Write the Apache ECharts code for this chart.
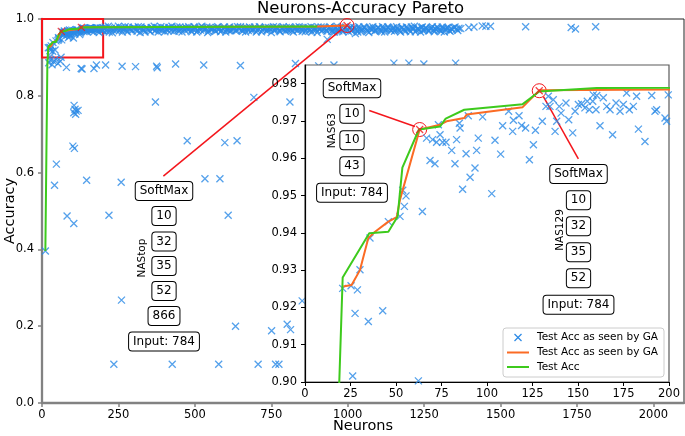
<!DOCTYPE html>
<html><head><meta charset="utf-8">
<script src="https://cdn.jsdelivr.net/npm/echarts@6/dist/echarts.min.js"></script>
<style>html,body{margin:0;padding:0;background:#fff}#c{width:685px;height:436px}</style>
</head><body><div id="c"></div>
<script>
// ---- tick labels ----
const mainXTicks = [0, 250, 500, 750, 1000, 1250, 1500, 1750, 2000];
const mainYTicks = [0, 0.2, 0.4, 0.6, 0.8, 1.0];
const insetXTicks = [0, 25, 50, 75, 100, 125, 150, 175, 200];
const insetYTicks = [0.90, 0.91, 0.92, 0.93, 0.94, 0.95, 0.96, 0.97, 0.98];

// ---- scatter: Test Acc as seen by GA ----
const pointsSmallNets = [
 [20.7,0.9251],[25.3,0.9258],[28.8,0.9247],[30.2,0.9301],[27.5,0.9184],[34.8,0.9162],[42.7,0.9191],
 [35.7,0.9386],[45.8,0.9430],[52.2,0.9444],[53.7,0.9514],[55.5,0.9499],[54.6,0.9471],[64.5,0.9457],
 [26.2,0.9016],[62.3,0.9003],[66.8,0.9654],[70.1,0.9650],[72.3,0.9643],[73.3,0.9690],[74.2,0.9663],
 [75.6,0.9643],[77.5,0.9643],[68.7,0.9594],[71.4,0.9585],[80.6,0.9621],[82.4,0.9585],[83.3,0.9650],
 [85.2,0.9681],[84.8,0.9694],[86.6,0.9517],[88.5,0.9612],[90.7,0.9549],[93.4,0.9574],[95.2,0.9654],
 [94.3,0.9621],[89.7,0.9714],[97.6,0.9711],[104.4,0.9648],[107.5,0.9611],[102.6,0.9505],[108.6,0.9687],
 [111.9,0.9726],[114.1,0.9672],[114.5,0.9702],[117.6,0.9714],[119.0,0.9688],[121.2,0.9681],[123.3,0.9596],
 [125.5,0.9636],[126.6,0.9675],[130.4,0.9699],[132.4,0.9739],[133.7,0.9766],[136.4,0.9757],[137.4,0.9672],
 [139.7,0.9739],[140.7,0.9721],[143.4,0.9748],[144.9,0.9703],[147.1,0.9668],[148.4,0.9726],[150.2,0.9744],
 [152.0,0.9746],[153.8,0.9735],[155.1,0.9753],[156.2,0.9730],[158.1,0.9753],[158.4,0.9770],[159.9,0.9730],
 [160.3,0.9768],[162.1,0.9687],[163.9,0.9762],[165.8,0.9739],[167.6,0.9730],[169.0,0.9663],[170.9,0.9748],
 [173.1,0.9726],[174.9,0.9744],[176.7,0.9775],[178.2,0.9730],[180.4,0.9739],[182.2,0.9766],[183.2,0.9678],
 [186.8,0.9645],[190.5,0.9768],[192.3,0.9726],[193.2,0.9730],[197.8,0.9708],[198.7,0.9699],[199.6,0.9770],
 [134.6,0.9739],[138.3,0.9699]
];
const pointsBand = [
 [201,0.970],[207,0.979],[214,0.973],[220,0.966],[227,0.976],[233,0.971],[240,0.978],[246,0.974],[253,0.969],
 [259,0.977],[266,0.972],[272,0.980],[279,0.967],[285,0.975],[292,0.971],[298,0.978],[305,0.973],[311,0.968],
 [318,0.976],[324,0.979],[331,0.972],[337,0.966],[344,0.975],[350,0.970],[357,0.978],[363,0.974],[370,0.969],
 [376,0.977],[383,0.972],[389,0.980],[396,0.975],[402,0.967],[409,0.973],[415,0.978],[422,0.970],[428,0.976],
 [435,0.972],[441,0.979],[448,0.968],[454,0.974],[461,0.977],[467,0.971],[474,0.975],[480,0.980],[487,0.969],
 [493,0.973],[500,0.978],[506,0.966],[513,0.975],[519,0.971],[526,0.977],[532,0.973],[539,0.979],[545,0.968],
 [552,0.974],[558,0.976],[565,0.970],[571,0.978],[578,0.973],[584,0.967],[591,0.975],[597,0.979],[604,0.972],
 [610,0.976],[617,0.969],[623,0.974],[630,0.978],[636,0.971],[643,0.975],[649,0.980],[656,0.968],[662,0.973],
 [669,0.977],[675,0.970],[682,0.976],[688,0.972],[695,0.979],[701,0.966],[708,0.974],[714,0.977],[721,0.971],
 [727,0.975],[734,0.969],[740,0.978],[747,0.973],[753,0.976],[760,0.970],[766,0.979],[773,0.974],[779,0.967],
 [786,0.975],[792,0.972],[799,0.978],[805,0.971],[812,0.976],[818,0.969],[825,0.974],[831,0.979],[838,0.972],
 [844,0.977],[851,0.968],[857,0.975],[864,0.971],[870,0.978],[877,0.973],[883,0.966],[890,0.976],[896,0.972],
 [903,0.979],[909,0.974],[916,0.969],[922,0.977],[929,0.971],[935,0.975],[942,0.980],[948,0.968],[955,0.973],
 [961,0.978],[968,0.972],[974,0.976],[981,0.970],[987,0.974],[994,0.979],[1000,0.971],[1007,0.976],[1013,0.969],
 [1020,0.978],[1026,0.973],[1033,0.966],[1039,0.975],[1046,0.971],[1052,0.979],[1059,0.974],[1065,0.968],
 [1072,0.977],[1078,0.972],[1085,0.975],[1091,0.970],[1098,0.978],[1104,0.973],[1111,0.967],[1117,0.976],
 [1124,0.971],[1130,0.979],[1137,0.974],[1143,0.969],[1150,0.977],[1156,0.972],[1163,0.975],[1169,0.970],
 [1176,0.978],[1182,0.973],[1189,0.968],[1195,0.976],[1202,0.971],[1208,0.979],[1215,0.974],[1221,0.967],
 [1228,0.975],[1234,0.972],[1241,0.978],[1247,0.970],[1254,0.976],[1260,0.973],[1267,0.969],[1273,0.977],
 [1280,0.971],[1286,0.975],[1293,0.979],[1299,0.972],[1306,0.968],[1312,0.976],[1319,0.973],[1325,0.978],
 [1332,0.970],[1339,0.975],[1347,0.977],[1356,0.974],[1364,0.976],
 [1396,0.978],[1413,0.979],[1440,0.982],[1452,0.981],[1467,0.981],[1582,0.980],[1731,0.978],[1745,0.974],[1811,0.980],
 [1025,0.962],[611,0.970],[813,0.973],[933,0.947],[957,0.966]
];
const pointsBand2 = [
 [204,0.975],[211,0.968],[217,0.981],[224,0.972],[230,0.964],[237,0.975],[243,0.970],[250,0.981],[256,0.973],
 [263,0.966],[269,0.976],[276,0.971],[282,0.979],[289,0.974],[295,0.969],[302,0.977],[308,0.972],[315,0.980],
 [321,0.965],[328,0.975],[334,0.970],[341,0.978],[347,0.973],[354,0.967],[360,0.976],[367,0.981],[373,0.972],
 [380,0.966],[386,0.975],[393,0.970],[399,0.978],[406,0.974],[412,0.969],[419,0.977],[425,0.981],[432,0.968],
 [438,0.975],[445,0.971],[451,0.979],[458,0.966],[464,0.974],[471,0.978],[477,0.972],[484,0.976],[490,0.967],
 [497,0.980],[503,0.973],[510,0.969],[516,0.977],[523,0.981],[529,0.970],[536,0.975],[542,0.965],[549,0.978],
 [555,0.972],[562,0.976],[568,0.968],[575,0.980],[581,0.974],[588,0.970],[594,0.977],[601,0.966],[607,0.973],
 [614,0.979],[620,0.971],[627,0.976],[633,0.969],[640,0.980],[646,0.974],[653,0.971],[659,0.977],[666,0.966],
 [672,0.975],[679,0.979],[685,0.969],[692,0.973],[698,0.976],[705,0.970],[711,0.980],[718,0.967],[724,0.974],
 [731,0.978],[737,0.971],[744,0.976],[750,0.965],[757,0.980],[763,0.972],[770,0.977],[776,0.969],[783,0.975],
 [789,0.980],[796,0.968],[802,0.974],[809,0.979],[815,0.972],[822,0.966],[828,0.976],[835,0.970],[841,0.980],
 [848,0.973],[854,0.978],[861,0.967],[867,0.975],[874,0.969],[880,0.980],[887,0.971],[893,0.977],[900,0.965],
 [906,0.974],[913,0.979],[919,0.972],[926,0.976],[932,0.968],[939,0.978],[945,0.973],[952,0.966],[958,0.976],
 [965,0.981],[971,0.969],[978,0.975],[984,0.967],[991,0.977],[997,0.973],[1004,0.966],[1010,0.979],[1017,0.972],
 [1023,0.976],[1030,0.970],[1036,0.980],[1043,0.967],[1049,0.974],[1056,0.978],[1062,0.971],[1069,0.965],
 [1075,0.975],[1082,0.980],[1088,0.968],[1095,0.973],[1101,0.977],[1108,0.970],[1114,0.980],[1121,0.966],
 [1127,0.974],[1134,0.978],[1140,0.971],[1147,0.975],[1153,0.968],[1160,0.980],[1166,0.973],[1173,0.966],
 [1179,0.977],[1186,0.971],[1192,0.979],[1199,0.974],[1205,0.967],[1212,0.976],[1218,0.981],[1225,0.970],
 [1231,0.975],[1238,0.966],[1244,0.979],[1251,0.972],[1257,0.977],[1264,0.969],[1270,0.974],[1277,0.980],
 [1283,0.967],[1290,0.973],[1296,0.976],[1303,0.970],[1309,0.979],[1316,0.966],[1322,0.974],[1329,0.977],
 [1335,0.968],[1342,0.972],[1351,0.979],[1360,0.970],[1370,0.975]
];
const pointsOutliers = [
 [80,0.874],[128,0.871],[131,0.870],[170,0.871],[178,0.880],[208,0.880],[262,0.877],[306,0.876],[375,0.877],
 [377,0.873],[437,0.883],[529,0.880],[649,0.879],[829,0.884],[905,0.878],[955,0.880],[1151,0.885],[1200,0.885],
 [1249,0.883],[1353,0.885],
 [105,0.775],[108,0.765],[112,0.760],[110,0.752],[118,0.762],[104,0.756],[101,0.669],[106,0.663],
 [371,0.784],[693,0.796],[811,0.784],[475,0.683],[598,0.678],[638,0.683],[47,0.622],[41,0.567],[146,0.580],
 [259,0.575],[533,0.584],[582,0.584],[82,0.487],[219,0.489],[609,0.489],[104,0.4675],[11,0.396],[260,0.268],
 [235,0.101],[426,0.101],[578,0.101],[707,0.101],[764,0.101],[775,0.101],[633,0.200],[751,0.188],[802,0.205],
 [813,0.191],[851,0.266],
 [22,0.886],[27,0.893],[33,0.881],[38,0.889],[45,0.896],[52,0.884],[60,0.890]
];

// ---- Pareto fronts ----
const gaAccFront = [
 [21,0.9256],[25.6,0.9260],[30.2,0.9300],[34.8,0.9386],[38.5,0.9403],[45.8,0.9430],[50.4,0.9442],[52.2,0.9489],
 [63,0.9677],[74.2,0.9690],[77.8,0.9699],[87.5,0.9708],[88.8,0.9717],[119.6,0.9737],[128.7,0.9782],[900,0.9805],[998,0.9830]
];
const testAccFront = [
 [11,0.396],[17.5,0.880],[20.7,0.928],[35.3,0.9399],[45.8,0.9403],[50.9,0.9444],[53.5,0.9575],[62.6,0.9677],
 [74.2,0.9685],[77.3,0.9706],[87.5,0.9730],[119.6,0.9745],[128.7,0.9779],[160.3,0.9788],[900,0.9805]
];
// highlighted networks
const nas63 = [63, 0.9677];
const nas129 = [128.7, 0.9781];
const nastop = [998, 0.983];
const nastopLayers = ['SoftMax', '10', '32', '35', '52', '866', 'Input: 784'];
const nas63Layers = ['SoftMax', '10', '10', '43', 'Input: 784'];
const nas129Layers = ['SoftMax', '10', '32', '35', '52', 'Input: 784'];

const BLUE = '#2b8ae6', ORANGE = '#fb6b24', GREEN = '#3dca1c', RED = '#f4161c';
const XSYM = 'path://M0,0L10,10M10,0L0,10';
const FONT = 'DejaVu Sans';

const allPoints = pointsSmallNets.concat(pointsBand, pointsBand2, pointsOutliers);

function boxes(list, cx, ys) {
  return list.map((t, i) => ({
    type: 'text', x: cx, y: ys[i], z: 30,
    style: { text: t, fontSize: 12, fontFamily: FONT, fill: '#000', align: 'center', verticalAlign: 'middle',
      backgroundColor: '#fff', borderColor: '#000', borderWidth: 1, borderRadius: 3, padding: [3, 4, 2, 4], lineHeight: 13 }
  }));
}
function vlabel(t, x, y) {
  return { type: 'text', x: x, y: y, rotation: Math.PI / 2, z: 30,
    style: { text: t, fontSize: 10.5, fontFamily: FONT, fill: '#000', align: 'center', verticalAlign: 'middle' } };
}

const chart = echarts.init(document.getElementById('c'), null, { renderer: 'canvas' });
const axisFont = { fontSize: 11.5, fontFamily: FONT, color: '#000' };

const option = {
  animation: false,
  backgroundColor: '#fff',
  title: { text: 'Neurons-Accuracy Pareto', left: 257, top: 0, padding: 0,
    textStyle: { fontSize: 16.5, fontWeight: 'normal', fontFamily: FONT, color: '#000' } },
  grid: [
    { left: 42, top: 19, width: 642, height: 384, show: true, borderColor: '#222', borderWidth: 1,
      backgroundColor: 'transparent', outerBoundsMode: 'none' },
    { left: 305, top: 65, width: 364, height: 317, show: false, outerBoundsMode: 'none' }
  ],
  xAxis: [
    { type: 'value', gridIndex: 0, min: 0, max: 2100, name: 'Neurons', nameLocation: 'middle', nameGap: 16,
      nameMoveOverlap: false,
      nameTextStyle: { fontSize: 14.5, fontFamily: FONT, color: '#000' },
      axisLine: { onZero: false, lineStyle: { color: '#828282', width: 2.3 } },
      axisTick: { customValues: mainXTicks, length: 4, lineStyle: { color: '#828282', width: 1.5 } },
      axisLabel: Object.assign({ customValues: mainXTicks, margin: 6, formatter: v => String(v) }, axisFont),
      splitLine: { show: false } },
    { type: 'value', gridIndex: 1, min: 0, max: 200, z: 10,
      axisLine: { onZero: false, lineStyle: { color: '#000', width: 1.2 } },
      axisTick: { customValues: insetXTicks, length: 4, lineStyle: { color: '#000', width: 1 } },
      axisLabel: Object.assign({ customValues: insetXTicks, margin: 6, formatter: v => String(v) }, axisFont),
      splitLine: { show: false } }
  ],
  yAxis: [
    { type: 'value', gridIndex: 0, min: 0, max: 1, name: 'Accuracy', nameLocation: 'middle', nameGap: 24,
      nameMoveOverlap: false,
      nameTextStyle: { fontSize: 14.5, fontFamily: FONT, color: '#000' },
      axisLine: { onZero: false, lineStyle: { color: '#828282', width: 2.3 } },
      axisTick: { customValues: mainYTicks, length: 4, lineStyle: { color: '#828282', width: 1.5 } },
      axisLabel: Object.assign({ customValues: mainYTicks, margin: 8, formatter: v => v.toFixed(1) }, axisFont),
      splitLine: { show: false } },
    { type: 'value', gridIndex: 1, min: 0.9, max: 0.985, z: 10,
      axisLine: { onZero: false, lineStyle: { color: '#000', width: 1.2 } },
      axisTick: { customValues: insetYTicks, length: 4, lineStyle: { color: '#000', width: 1 } },
      axisLabel: Object.assign({ customValues: insetYTicks, margin: 8, formatter: v => v.toFixed(2) }, axisFont),
      splitLine: { show: false } }
  ],
  series: [
    { type: 'scatter', name: 'Test Acc as seen by GA', xAxisIndex: 0, yAxisIndex: 0, data: allPoints, z: 2,
      symbol: XSYM, symbolSize: 7, itemStyle: { color: 'transparent', borderColor: BLUE, borderWidth: 1.3 } },
    { type: 'line', name: 'Test Acc as seen by GA (front)', xAxisIndex: 0, yAxisIndex: 0, data: gaAccFront, z: 3,
      symbol: 'none', lineStyle: { color: ORANGE, width: 2 } },
    { type: 'line', name: 'Test Acc', xAxisIndex: 0, yAxisIndex: 0, data: testAccFront, z: 3,
      symbol: 'none', lineStyle: { color: GREEN, width: 2 } },
    { type: 'scatter', name: 'selected', xAxisIndex: 0, yAxisIndex: 0, data: [nas63, nas129, nastop], z: 4,
      symbol: XSYM, symbolSize: 7, itemStyle: { color: 'transparent', borderColor: RED, borderWidth: 1.3 },
      markPoint: { symbol: 'circle', symbolSize: 14, label: { show: false },
        itemStyle: { color: 'transparent', borderColor: RED, borderWidth: 1 }, data: [{ coord: nastop }] },
      markLine: { symbol: 'none', silent: true, label: { show: false },
        lineStyle: { color: RED, width: 1.5, type: 'solid' },
        data: [[{ coord: [397, 0.591] }, { coord: [980, 0.973] }]] },
      markArea: { silent: true, itemStyle: { color: 'rgba(0,0,0,0)', borderColor: RED, borderWidth: 2 },
        data: [[{ coord: [0, 0.9] }, { coord: [200, 1.0] }]] } },
    { type: 'scatter', xAxisIndex: 1, yAxisIndex: 1, data: allPoints, z: 10,
      symbol: XSYM, symbolSize: 7, itemStyle: { color: 'transparent', borderColor: BLUE, borderWidth: 1.3 } },
    { type: 'line', xAxisIndex: 1, yAxisIndex: 1, data: gaAccFront, z: 11,
      symbol: 'none', lineStyle: { color: ORANGE, width: 2 } },
    { type: 'line', xAxisIndex: 1, yAxisIndex: 1, data: testAccFront, z: 11,
      symbol: 'none', lineStyle: { color: GREEN, width: 2 } },
    { type: 'scatter', xAxisIndex: 1, yAxisIndex: 1, data: [nas63, nas129], z: 12,
      symbol: XSYM, symbolSize: 7, itemStyle: { color: 'transparent', borderColor: RED, borderWidth: 1.3 },
      markPoint: { symbol: 'circle', symbolSize: 14, label: { show: false },
        itemStyle: { color: 'transparent', borderColor: RED, borderWidth: 1 },
        data: [{ coord: nas63 }, { coord: nas129 }] },
      markLine: { symbol: 'none', silent: true, label: { show: false },
        lineStyle: { color: RED, width: 1.5, type: 'solid' },
        data: [[{ coord: [35.3, 0.9728] }, { coord: [60.4, 0.9685] }],
               [{ coord: [131, 0.9765] }, { coord: [150.2, 0.9598] }]] } }
  ],
  graphic: [].concat(
    [{ type: 'rect', z: 5, shape: { x: 305, y: 65, width: 364, height: 317 },
       style: { fill: '#fff', stroke: '#5a5a5a', lineWidth: 1.2 } }],
    boxes(nastopLayers, 164, [191, 216, 241.5, 266, 291, 316, 341.5]),
    [vlabel('NAStop', 142, 258)],
    boxes(nas63Layers, 352, [88.3, 113.8, 140.3, 166.3, 192.7]),
    [vlabel('NAS63', 332.5, 130.7)],
    boxes(nas129Layers, 578.5, [174, 200.3, 226.3, 252.3, 278.3, 304.7]),
    [vlabel('NAS129', 560, 230)],
    [
      { type: 'rect', z: 25, shape: { x: 503, y: 328, width: 161, height: 49, r: 3 },
        style: { fill: 'rgba(255,255,255,0.8)', stroke: '#cccccc', lineWidth: 1 } },
      { type: 'line', z: 26, shape: { x1: 514.5, y1: 334, x2: 521.5, y2: 341 }, style: { stroke: BLUE, lineWidth: 1.3 } },
      { type: 'line', z: 26, shape: { x1: 521.5, y1: 334, x2: 514.5, y2: 341 }, style: { stroke: BLUE, lineWidth: 1.3 } },
      { type: 'line', z: 26, shape: { x1: 507, y1: 352.5, x2: 529, y2: 352.5 }, style: { stroke: ORANGE, lineWidth: 2 } },
      { type: 'line', z: 26, shape: { x1: 507, y1: 367, x2: 529, y2: 367 }, style: { stroke: GREEN, lineWidth: 2 } },
      { type: 'text', z: 26, x: 537, y: 337.5, style: { text: 'Test Acc as seen by GA', fontSize: 10.5, fontFamily: FONT, fill: '#000', verticalAlign: 'middle' } },
      { type: 'text', z: 26, x: 537, y: 352.5, style: { text: 'Test Acc as seen by GA', fontSize: 10.5, fontFamily: FONT, fill: '#000', verticalAlign: 'middle' } },
      { type: 'text', z: 26, x: 537, y: 367, style: { text: 'Test Acc', fontSize: 10.5, fontFamily: FONT, fill: '#000', verticalAlign: 'middle' } }
    ]
  )
};
chart.setOption(option);
</script></body></html>
